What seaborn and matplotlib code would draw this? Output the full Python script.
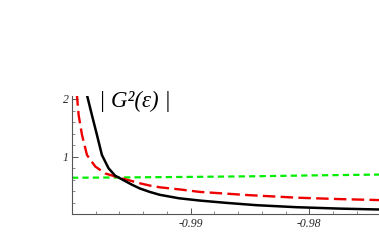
import matplotlib
matplotlib.use("Agg")
import matplotlib.pyplot as plt
import seaborn as sns
from matplotlib.ticker import MultipleLocator

# ---- data ----
eps_black = [-0.99874, -0.99832, -0.99790, -0.99748, -0.99692, -0.99636, -0.99608,
             -0.9950, -0.99429, -0.99345, -0.99261, -0.99100, -0.98924, -0.98700,
             -0.98448, -0.9811, -0.9774, -0.9741]
g_black = [2.07, 1.72, 1.38, 1.03, 0.80, 0.67, 0.64,
           0.52, 0.45, 0.39, 0.34, 0.28, 0.24, 0.20,
           0.16, 0.125, 0.10, 0.085]

eps_red = [-0.99960, -0.99944, -0.99916, -0.99874, -0.99804, -0.99720, -0.99608,
           -0.9950, -0.99429, -0.99345, -0.99261, -0.9908, -0.98924, -0.9852,
           -0.9811, -0.9774, -0.9741]
g_red = [2.1, 1.72, 1.38, 1.03, 0.83, 0.71, 0.64,
         0.58, 0.54, 0.50, 0.47, 0.43, 0.39, 0.335,
         0.29, 0.265, 0.248]

eps_green = [-1.0, -0.996, -0.99, -0.985, -0.98, -0.9741]
g_green = [0.635, 0.64, 0.65, 0.66, 0.675, 0.69]

xticks = [-0.99, -0.98]
xtick_labels = ["-0.99", "-0.98"]
yticks = [1, 2]
ytick_labels = ["1", "2"]
title_text = "| G²(ε) |"

# ---- plot ----
sns.set_theme(style="white")
plt.rcParams["lines.scale_dashes"] = False
plt.rcParams["font.family"] = ["Liberation Serif", "DejaVu Serif"]

fig = plt.figure(figsize=(3.79, 2.47), dpi=100)
ax = fig.add_axes([72 / 379, 1 - 214.4 / 247, 1 - 72 / 379, (214.4 - 96.1) / 247])

sns.lineplot(x=eps_green, y=g_green, ax=ax, color="#00ee00", lw=1.6,
             linestyle=(0, (4.5, 3.0)), sort=True)
sns.lineplot(x=eps_red, y=g_red, ax=ax, color="#ee0000", lw=1.7,
             linestyle=(0, (9.0, 3.8)), sort=True)
sns.lineplot(x=eps_black, y=g_black, ax=ax, color="black", lw=1.8, sort=True)

ax.set_xlim(-1.0, -0.97412)
ax.set_ylim(0, 2.05)

for s in ["top", "right"]:
    ax.spines[s].set_visible(False)
for s in ["left", "bottom"]:
    ax.spines[s].set_color("#555555")
    ax.spines[s].set_linewidth(0.8)

ax.set_xticks(xticks)
ax.set_xticklabels(xtick_labels, fontstyle="italic", fontsize=8.5)
ax.set_yticks(yticks)
ax.set_yticklabels(ytick_labels, fontstyle="italic", fontsize=8.5)
ax.xaxis.set_minor_locator(MultipleLocator(0.002))
ax.yaxis.set_minor_locator(MultipleLocator(0.2))
ax.tick_params(which="major", direction="in", length=4, width=0.7, color="#555555",
               bottom=True, left=True, pad=2.5)
ax.tick_params(which="minor", direction="in", length=2.2, width=0.6, color="#777777",
               bottom=True, left=True)
ax.set_xlabel("")
ax.set_ylabel("")

fig.text(99 / 379, 1 - 101 / 247, title_text, fontsize=16.5, fontstyle="italic",
         va="center", ha="left", color="black")

fig.savefig("out.png", dpi=100, facecolor="white")
